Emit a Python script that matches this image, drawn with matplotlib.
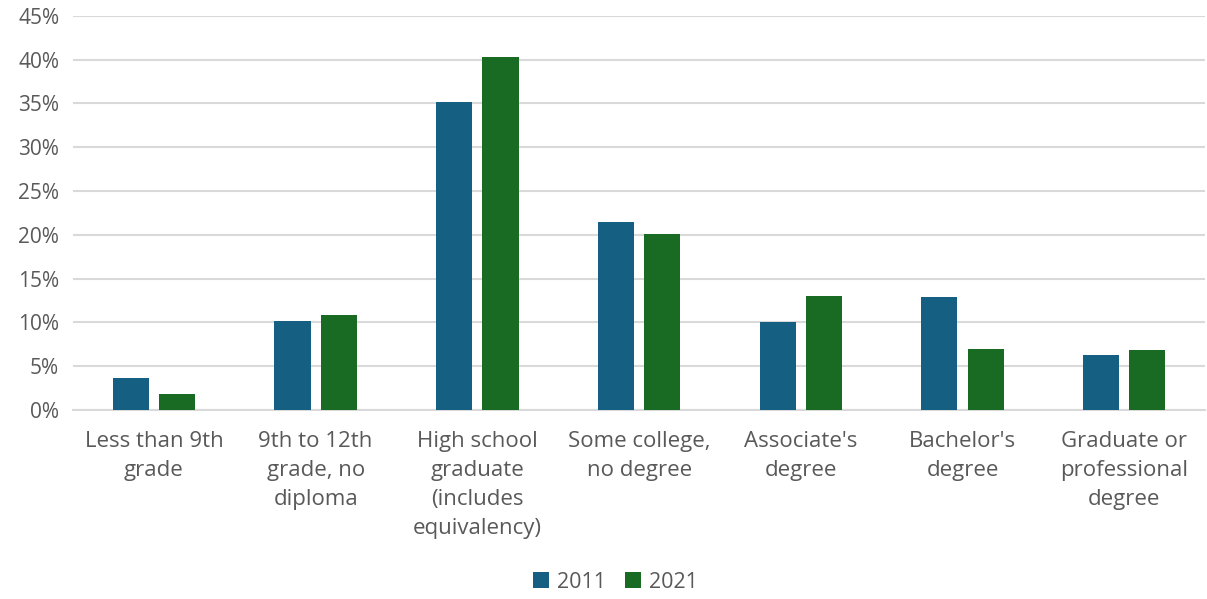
import matplotlib.pyplot as plt
import numpy as np

plt.rcParams['font.family'] = ['Open Sans', 'DejaVu Sans']

categories = ["Less than 9th\ngrade", "9th to 12th\ngrade, no\ndiploma",
              "High school\ngraduate\n(includes\nequivalency)", "Some college,\nno degree",
              "Associate's\ndegree", "Bachelor's\ndegree", "Graduate or\nprofessional\ndegree"]
vals_2011 = [3.6, 10.2, 35.2, 21.5, 10.0, 12.9, 6.3]
vals_2021 = [1.8, 10.8, 40.3, 20.1, 13.0, 7.0, 6.8]
years = ["2011", "2021"]

c2011 = '#156082'
c2021 = '#196b24'
txt = '#595959'

fig = plt.figure(figsize=(12.07, 5.99), dpi=100)
ax = fig.add_axes([0.0605, 0.3155, 0.938, 0.658])

x = np.arange(len(categories))
w = 0.223
off = 0.143
ax.bar(x - off, vals_2011, w, color=c2011, label=years[0], zorder=3)
ax.bar(x + off, vals_2021, w, color=c2021, label=years[1], zorder=3)

ax.set_xlim(-0.5, len(categories) - 0.5)
ax.set_ylim(0, 45)
ax.set_yticks(range(0, 46, 5))
ax.set_yticklabels([f"{v}%" for v in range(0, 46, 5)], color=txt, fontsize=15)
ax.yaxis.grid(True, color='#d9d9d9', linewidth=1.5, zorder=0)
ax.tick_params(axis='y', length=0, pad=10)
ax.tick_params(axis='x', length=0, pad=15)
ax.set_xticks(x)
ax.set_xticklabels(categories, color=txt, fontsize=16, linespacing=1.5)
for s in ['top', 'right', 'left']:
    ax.spines[s].set_visible(False)
ax.spines['bottom'].set_color('#d9d9d9')
ax.spines['bottom'].set_linewidth(1.5)

fig.legend(loc='center', bbox_to_anchor=(0.51, 0.028), ncol=2, frameon=False,
           fontsize=15.5, labelcolor=txt, handlelength=0.75, handleheight=0.75,
           handletextpad=0.35, columnspacing=0.9)

fig.savefig('out.png', dpi=100)
